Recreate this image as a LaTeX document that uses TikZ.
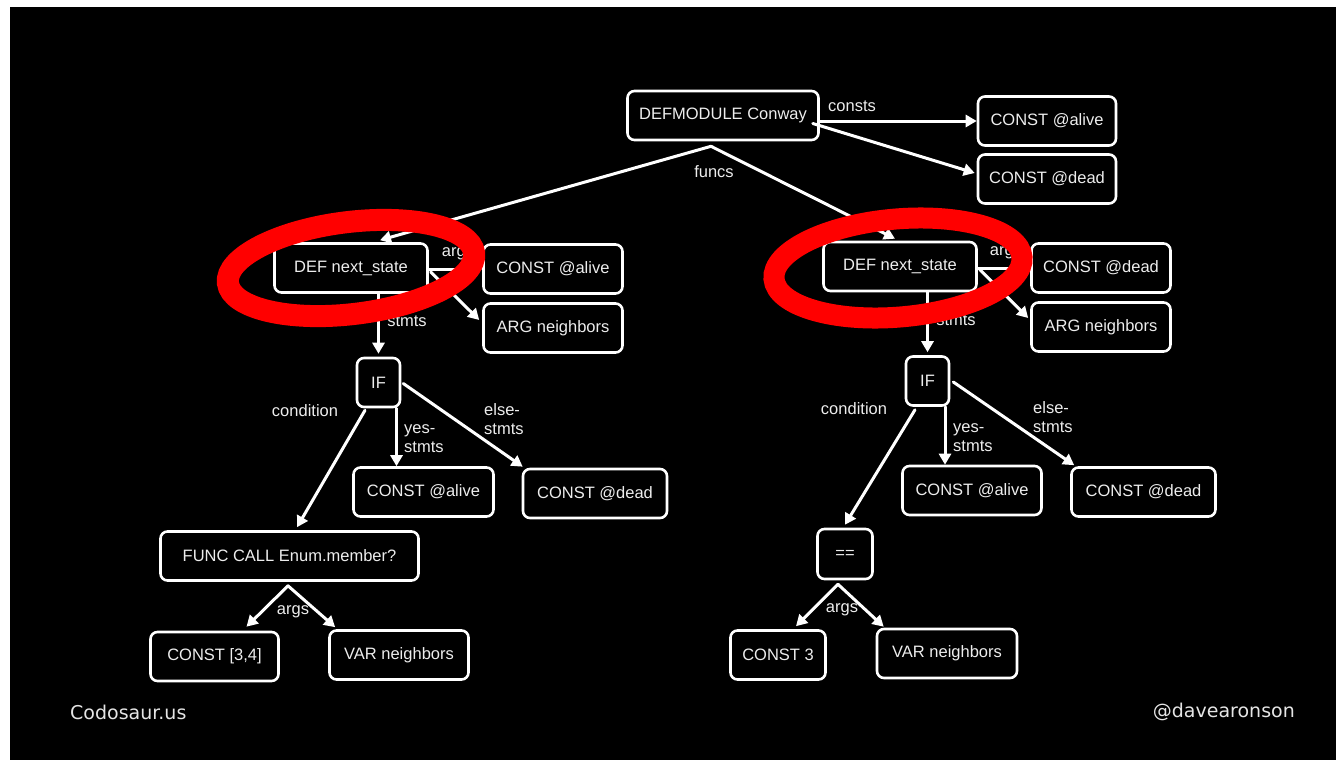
\documentclass[tikz,border=0pt]{standalone}
\usepackage{fontspec}
\setmainfont{Liberation Sans}
\newfontfamily\footfont{DejaVu Sans}
\usetikzlibrary{arrows.meta,calc}
\begin{document}
\begin{tikzpicture}[x=1pt,y=-1pt,
  box/.style={draw=white, line width=2.6pt, rounded corners=7pt, fill=black, text=white!93!black, inner sep=0pt, minimum height=49pt, font=\fontsize{16.5}{19}\selectfont},
  lbl/.style={text=white!93!black, inner sep=0pt, font=\fontsize{16.5}{19}\selectfont},
  arr/.style={draw=white, line width=3pt, line cap=round, -{Triangle[length=11pt,width=12pt]}},
  ring/.style={draw=red, line width=22pt},
  foot/.style={text=white!90!black, inner sep=0pt, font=\footfont\fontsize{19}{22}\selectfont}]
\useasboundingbox (0,0) rectangle (1336,760);
\fill[white] (0,0) rectangle (1336,760);
\fill[black] (10,7) rectangle (1336,760);

% top
\node[box, minimum width=191pt] (mod) at (723,115.5) {DEFMODULE Conway};
\node[box, minimum width=138pt] (ca1) at (1047,121) {CONST @alive};
\node[box, minimum width=138pt] (cd1) at (1047,179) {CONST @dead};

% left tree
\node[box, minimum width=153pt] (defL) at (351,268) {DEF next\_state};
\node[box, minimum width=139pt] (caL) at (553,269) {CONST @alive};
\node[box, minimum width=139pt] (argL) at (553,328) {ARG neighbors};
\node[box, minimum width=43pt] (ifL) at (378.5,382.5) {IF};
\node[box, minimum width=140pt] (yesL) at (423.5,492) {CONST @alive};
\node[box, minimum width=144pt] (elseL) at (595,493.5) {CONST @dead};
\node[box, minimum width=258pt] (func) at (289.5,556) {FUNC CALL Enum.member?};
\node[box, minimum width=128pt] (c34) at (214.5,656.5) {CONST [3,4]};
\node[box, minimum width=139pt] (varL) at (399,655) {VAR neighbors};

% right tree
\node[box, minimum width=153pt] (defR) at (900,266.5) {DEF next\_state};
\node[box, minimum width=139pt] (cdR) at (1101,268) {CONST @dead};
\node[box, minimum width=139pt] (argR) at (1101,327) {ARG neighbors};
\node[box, minimum width=43pt] (ifR) at (927.5,381) {IF};
\node[box, minimum width=139pt] (yesR) at (972,490.5) {CONST @alive};
\node[box, minimum width=144pt] (elseR) at (1143.5,492) {CONST @dead};
\node[box, minimum width=55pt, minimum height=50pt] (eq) at (845,554) {==};
\node[box, minimum width=95pt] (c3) at (778,655) {CONST 3};
\node[box, minimum width=140pt] (varR) at (947,653.5) {VAR neighbors};

% top edges
\draw[arr] (mod.east |- ca1.west) -- (ca1.west);
\draw[arr] ($(mod.east)+(-7,8)$) -- ($(cd1.west)+(-2,-6)$);
\node[lbl] (lconsts) at (852,106) {consts};
\coordinate (fk) at ($(mod.south)+(-12,5)$);
\draw[arr] (fk) -- ($(defL.north)+(29,-2)$);
\draw[arr] (fk) -- ($(defR.north)+(-5,-2)$);
\node[lbl] (lfuncs) at (714,172) {funcs};

% left DEF edges
\draw[arr] (defL.east |- caL.west) -- (caL.west);
\draw[arr] ($(defL.east)+(2,4)$) -- ($(argL.west)+(-3,-8)$);
\draw[arr] (defL.south -| ifL.north) -- ($(ifL.north)+(0,-3)$);
\node[lbl] (largsL) at (458,254) {args};
\node[lbl] (lstmtsL) at (407,321) {stmts};

% left IF edges
\coordinate (ysL) at ($(ifL.south)+(18,0)$);
\draw[arr] ($(ifL.south)+(-13.5,2)$) -- ($(func.north)+(7.5,-3)$);
\draw[arr] (ysL) -- (ysL |- yesL.north);
\draw[arr] ($(ifL.east)+(2,1)$) -- ($(elseL.north west)+(1,-1)$);
\node[lbl] (lcondL) at (305,411) {condition};
\node[lbl, align=left, anchor=west] (lyesL) at (404,439) {yes-\\stmts};
\node[lbl, align=left, anchor=west] (lelseL) at (484,419.5) {else-\\stmts};

% left func args
\coordinate (fa) at ($(func.south)+(-1.5,4)$);
\draw[arr] (fa) -- ($(c34.north)+(32,-4)$);
\draw[arr] (fa) -- ($(varL.north west)+(7,-2)$);
\node[lbl] (largsF) at (293,612) {args};

% right DEF edges
\draw[arr] (defR.east |- cdR.west) -- (cdR.west);
\draw[arr] ($(defR.east)+(2,3)$) -- ($(argR.west)+(-2,-9)$);
\draw[arr] (defR.south -| ifR.north) -- ($(ifR.north)+(0,-3)$);
\node[lbl] (largsR) at (1006,253) {args};
\node[lbl] (lstmtsR) at (956,320) {stmts};

% right IF edges
\coordinate (ysR) at ($(ifR.south)+(17.5,0)$);
\draw[arr] ($(ifR.south)+(-12.5,3)$) -- ($(eq.north)+(0,-3)$);
\draw[arr] (ysR) -- (ysR |- yesR.north);
\draw[arr] ($(ifR.east)+(3,1)$) -- ($(elseR.north west)+(4,-1)$);
\node[lbl] (lcondR) at (854,409) {condition};
\node[lbl, align=left, anchor=west] (lyesR) at (953,438) {yes-\\stmts};
\node[lbl, align=left, anchor=west] (lelseR) at (1033,417.5) {else-\\stmts};

% right eq args
\coordinate (ea) at ($(eq.south)+(-7,4)$);
\draw[arr] (ea) -- ($(c3.north)+(18,-3)$);
\draw[arr] (ea) -- ($(varR.north west)+(8,-1)$);
\node[lbl] (largsE) at (842,610) {args};

% red rings
\draw[ring, rotate around={7:(351,268)}] (351,268) ellipse [x radius=124, y radius=46];
\draw[ring, line width=21pt, rotate around={5:(898,268)}] (898,268) ellipse [x radius=124.5, y radius=49];

% footer
\node[foot, anchor=west] (lcod) at (70,712) {Codosaur.us};
\node[foot, anchor=east] (ldave) at (1295,712) {@davearonson};
\end{tikzpicture}
\end{document}
